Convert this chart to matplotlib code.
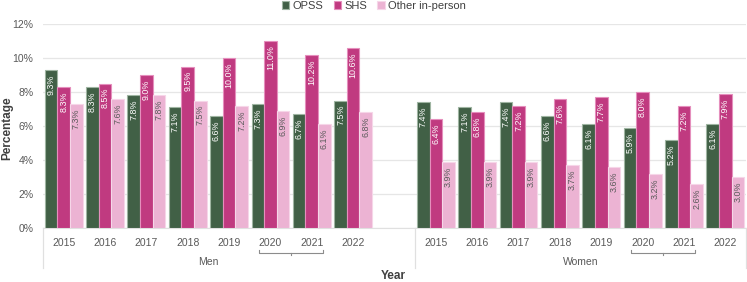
import matplotlib
matplotlib.use("Agg")
import matplotlib.pyplot as plt
import matplotlib.transforms as mtransforms
import numpy as np

plt.rcParams["font.family"] = ["Liberation Sans", "DejaVu Sans"]

years = ["2015", "2016", "2017", "2018", "2019", "2020", "2021", "2022"]
groups = ["Men", "Women"]
series = ["OPSS", "SHS", "Other in-person"]
men_opss = [9.3, 8.3, 7.8, 7.1, 6.6, 7.3, 6.7, 7.5]
men_shs = [8.3, 8.5, 9.0, 9.5, 10.0, 11.0, 10.2, 10.6]
men_other = [7.3, 7.6, 7.8, 7.5, 7.2, 6.9, 6.1, 6.8]
women_opss = [7.4, 7.1, 7.4, 6.6, 6.1, 5.9, 5.2, 6.1]
women_shs = [6.4, 6.8, 7.2, 7.6, 7.7, 8.0, 7.2, 7.9]
women_other = [3.9, 3.9, 3.9, 3.7, 3.6, 3.2, 2.6, 3.0]

colors = ["#416046", "#c03a80", "#ecb3d3"]
edges = ["#9fb5a2", "#e58fbd", "#f6d6e8"]
label_colors = ["white", "white", "#5a5a5a"]

fig = plt.figure(figsize=(7.47, 2.82), dpi=100)
ax = fig.add_axes([43/747, 54/282, 703/747, 204/282])

n = len(years)
men_x = np.arange(n)
women_x = np.arange(n) + n + 1
bw = 0.305
data = {"Men": [men_opss, men_shs, men_other], "Women": [women_opss, women_shs, women_other]}
xs = {"Men": men_x, "Women": women_x}

for g in groups:
    for i, (vals, c, ec, lc) in enumerate(zip(data[g], colors, edges, label_colors)):
        pos = xs[g] + (i - 1) * bw
        ax.bar(pos, vals, width=bw, color=c, edgecolor=ec, linewidth=0.8,
               label=series[i] if g == "Men" else None, zorder=3)
        for x, v in zip(pos, vals):
            ax.annotate(f"{v:.1f}%", (x, v), xytext=(0, -3.2), textcoords="offset points",
                        rotation=90, ha="center", va="top", fontsize=6.4, color=lc, zorder=4)

ax.set_xlim(-0.5, 2 * n + 0.5)
ax.set_ylim(0, 12)
ax.set_yticks(np.arange(0, 13, 2))
ax.set_yticklabels([f"{t}%" for t in range(0, 13, 2)])
ax.yaxis.grid(True, color="#e6e6e6", linewidth=0.9, zorder=0)
ax.set_axisbelow(True)
for s in ["top", "right", "left"]:
    ax.spines[s].set_visible(False)
ax.spines["bottom"].set_color("#e0e0e0")
ax.tick_params(axis="both", length=0, labelsize=7.5, colors="#595959", pad=7)
ax.tick_params(axis="y", pad=7)

allx = np.concatenate([men_x, women_x])
ax.set_xticks(allx)
ax.set_xticklabels(years + years)

trans = mtransforms.blended_transform_factory(ax.transData, ax.transAxes)
for xv in [-0.5, n + 0.5, 2 * n + 0.5]:
    ax.plot([xv, xv], [0, -0.196], transform=trans, color="#e0e0e0", lw=0.9, clip_on=False)
for g in groups:
    ax.text(xs[g].mean(), -0.165, g, transform=trans, ha="center", va="center",
            fontsize=7.5, color="#595959")
for g in groups:
    x0 = xs[g][5] - 0.27
    x1 = xs[g][6] + 0.27
    xm = (x0 + x1) / 2
    yb = -0.122
    ax.plot([x0, x0, x1, x1], [yb + 0.015, yb, yb, yb + 0.015], transform=trans,
            color="#8c8c8c", lw=0.8, clip_on=False)
    ax.plot([xm, xm], [yb, yb - 0.012], transform=trans, color="#8c8c8c", lw=0.8, clip_on=False)

fig.text(393/747, 1 - 276/282, "Year", ha="center", va="center", fontsize=8.5,
         fontweight="bold", color="#404040")
fig.text(7/747, 1 - 128/282, "Percentage", ha="center", va="center", rotation=90,
         fontsize=8.5, fontweight="bold", color="#404040")

fig.legend(loc="center", bbox_to_anchor=(374/747, 1 - 6/282), ncol=3, frameon=False,
           fontsize=8, handlelength=0.7, handleheight=0.7, handletextpad=0.3,
           columnspacing=0.9, labelcolor="#404040")

fig.savefig("out.png", dpi=100)
